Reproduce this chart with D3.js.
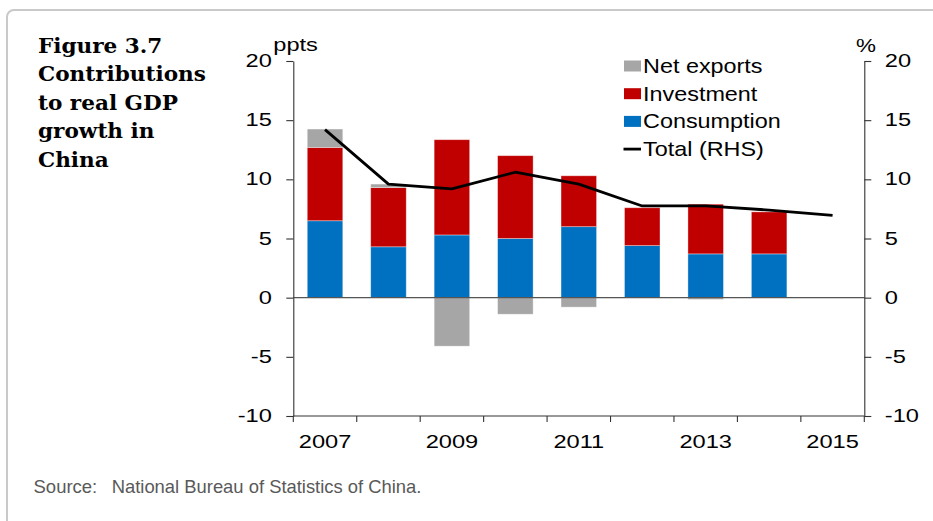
<!DOCTYPE html>
<html>
<head>
<meta charset="utf-8">
<script src="https://cdn.jsdelivr.net/npm/d3@7"></script>
<style>
  html, body { margin: 0; padding: 0; background: #fff; }
  svg { display: block; }
</style>
</head>
<body>
<svg id="chart" width="933" height="521"></svg>
<script>
// ---------------- data ----------------
const years = [2007, 2008, 2009, 2010, 2011, 2012, 2013, 2014, 2015];
const labelYears = [2007, 2009, 2011, 2013, 2015];
const consumption = [6.5, 4.3, 5.3, 5.0, 6.0, 4.4, 3.7, 3.7, null];
const investment  = [6.2, 5.0, 8.05, 7.0, 4.3, 3.2, 4.2, 3.55, null];
const netExports  = [1.55, 0.3, -4.1, -1.4, -0.8, 0.0, -0.15, 0.0, null];
const total       = [14.2, 9.6, 9.2, 10.6, 9.6, 7.75, 7.75, 7.4, 6.95];
const yTicks = [-10, -5, 0, 5, 10, 15, 20];
const seriesNames = ["Consumption", "Investment", "Net exports"];
const legendNames = ["Net exports", "Investment", "Consumption", "Total (RHS)"];
const titleLines = ["Figure 3.7", "Contributions", "to real GDP", "growth in", "China"];
const sourceLabel = "Source:";
const sourceText = "National Bureau of Statistics of China.";

// ---------------- style ----------------
const colors = { "Consumption": "#0070C0", "Investment": "#C00000", "Net exports": "#A6A6A6" };
const sansFont = "'Liberation Sans', Arial, sans-serif";
const tickStretch = 1.35;
const fmt = d => String(d); // hyphen-minus like reference

const svg = d3.select("#chart");

// frame
svg.append("rect")
  .attr("x", 7).attr("y", 10).attr("width", 1000).attr("height", 700)
  .attr("rx", 7).attr("ry", 7)
  .attr("fill", "none").attr("stroke", "#c9c9c9").attr("stroke-width", 2);

// title
const title = svg.append("g").attr("font-family", "'DejaVu Serif', serif")
  .attr("font-weight", "bold").attr("font-size", 20.5).attr("fill", "#000");
const titleTexts = title.selectAll("text").data(titleLines).join("text")
  .attr("x", 38).attr("y", (d, i) => 52.7 + i * 28.6).text(d => d);
const refW = titleTexts.nodes()[1].getComputedTextLength();
const tFactor = 168 / refW;
titleTexts.attr("transform", `translate(38,0) scale(${tFactor},1) translate(-38,0)`);

// scales
const x0 = 293.3, x1 = 864.3;
const xSlot = d3.scaleBand().domain(years).range([x0, x1]).padding(0);
const y = d3.scaleLinear().domain([-10, 20]).range([416, 61]);
const yR = d3.scaleLinear().domain([-10, 20]).range([416, 61]);
const barFrac = 0.56;
const barW = xSlot.bandwidth() * barFrac;
const barX = d => xSlot(d) + (xSlot.bandwidth() - barW) / 2;

// stacked data (diverging)
const rows = years.map((yr, i) => ({
  year: yr,
  "Consumption": consumption[i],
  "Investment": investment[i],
  "Net exports": netExports[i]
})).filter(r => r["Consumption"] !== null);

const stack = d3.stack().keys(seriesNames).offset(d3.stackOffsetDiverging);
const stacked = stack(rows);

const bars = svg.append("g");
stacked.forEach(s => {
  bars.append("g").attr("fill", colors[s.key])
    .selectAll("rect").data(s.filter(d => d[1] !== d[0])).join("rect")
    .attr("x", d => barX(d.data.year))
    .attr("width", barW)
    .attr("y", d => y(Math.max(d[0], d[1])))
    .attr("height", d => Math.abs(y(d[0]) - y(d[1])))
    .attr("stroke", "rgba(255,255,255,0.45)").attr("stroke-width", 0.8);
});

// zero line
svg.append("line")
  .attr("x1", x0).attr("x2", x1).attr("y1", y(0)).attr("y2", y(0))
  .attr("stroke", "#555").attr("stroke-width", 1.3);

// total line
const line = d3.line()
  .x((d, i) => xSlot(years[i]) + xSlot.bandwidth() / 2)
  .y(d => yR(d));
svg.append("path").datum(total)
  .attr("d", line).attr("fill", "none")
  .attr("stroke", "#000").attr("stroke-width", 2.8)
  .attr("stroke-linejoin", "round");

function stretchTicks(g) {
  g.selectAll(".tick text").each(function () {
    const t = d3.select(this);
    const xo = +t.attr("x") || 0;
    const yo = +t.attr("y") || 0;
    t.attr("x", 0).attr("y", 0)
      .attr("transform", `translate(${xo},${yo}) scale(${tickStretch},1)`);
  });
}
function styleAxis(g) {
  g.attr("font-family", sansFont).attr("font-size", 17.5);
  g.selectAll("path, line").attr("stroke", "#333").attr("stroke-width", 1.1);
  g.selectAll("text").attr("fill", "#000");
}

// left axis
const gL = svg.append("g").attr("transform", `translate(${x0},0)`)
  .call(d3.axisLeft(y).tickValues(yTicks).tickFormat(fmt).tickSize(7).tickSizeOuter(0).tickPadding(14.5));
styleAxis(gL); stretchTicks(gL);

// right axis
const gR = svg.append("g").attr("transform", `translate(${x1},0)`)
  .call(d3.axisRight(yR).tickValues(yTicks).tickFormat(fmt).tickSize(7).tickSizeOuter(0).tickPadding(13.5));
styleAxis(gR); stretchTicks(gR);

// bottom axis (labels)
const gB = svg.append("g").attr("transform", `translate(0,${y(-10)})`)
  .call(d3.axisBottom(xSlot).tickValues(labelYears).tickFormat(fmt).tickSize(0).tickPadding(19.3).tickSizeOuter(0));
styleAxis(gB); stretchTicks(gB);
gB.select(".domain").attr("d", `M${x0},0H${x1}`);
const bounds = years.map(d => xSlot(d)).concat([xSlot(years[years.length - 1]) + xSlot.bandwidth()]);
gB.selectAll("line.bt").data(bounds).join("line").attr("class", "bt")
  .attr("x1", d => d).attr("x2", d => d).attr("y1", 0).attr("y2", 6)
  .attr("stroke", "#333").attr("stroke-width", 1.1);

// unit labels
svg.append("text").attr("font-family", sansFont).attr("font-size", 17.5)
  .attr("transform", `translate(273.3,51) scale(${tickStretch},1)`).text("ppts");
svg.append("text").attr("font-family", sansFont).attr("font-size", 17.5)
  .attr("transform", `translate(856,51.7) scale(${tickStretch * 0.95},1)`).text("%");

// legend
const legStretch = 1.17;
const leg = svg.append("g").attr("font-family", sansFont).attr("font-size", 20);
legendNames.forEach((name, i) => {
  const cy = 66 + i * 27.7;
  if (colors[name]) {
    leg.append("rect").attr("x", 624).attr("y", cy - 5.5).attr("width", 17).attr("height", 11)
      .attr("fill", colors[name]);
  } else {
    leg.append("line").attr("x1", 623.5).attr("x2", 641).attr("y1", cy).attr("y2", cy)
      .attr("stroke", "#000").attr("stroke-width", 2.8);
  }
  leg.append("text").attr("transform", `translate(643,${cy + 7}) scale(${legStretch},1)`)
    .attr("fill", "#000").text(name);
});

// source
const src = svg.append("g").attr("font-family", sansFont).attr("font-size", 18.5).attr("fill", "#595959");
src.append("text").attr("x", 33.5).attr("y", 492.7).text(sourceLabel);
const st = src.append("text").attr("x", 111.7).attr("y", 492.7).text(sourceText);
const sw = st.node().getComputedTextLength();
st.attr("transform", `translate(111.7,0) scale(${310 / sw},1) translate(-111.7,0)`);
</script>
</body>
</html>
